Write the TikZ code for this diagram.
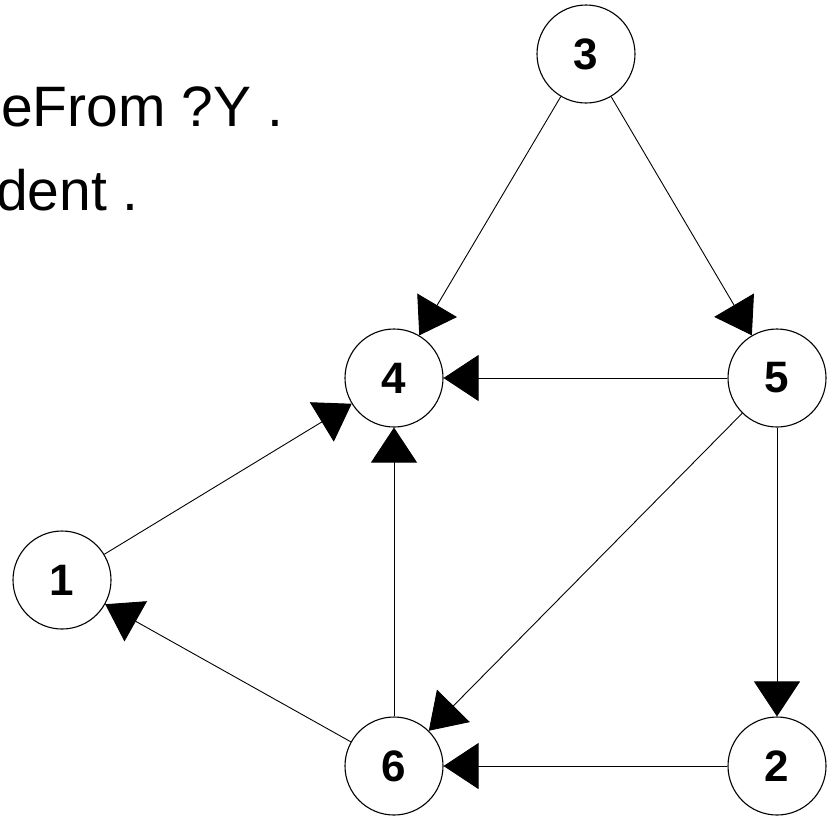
\documentclass[tikz,border=0pt]{standalone}
\usepackage{fontspec}
\setmainfont{Liberation Sans}
\usetikzlibrary{arrows.meta}
\tikzset{
  vertex/.style={circle, draw, line width=1.1pt, minimum size=98pt, inner sep=0pt,
    font=\fontsize{44}{44}\selectfont\bfseries},
  edge/.style={line width=0.9pt, -{Triangle[length=35pt,width=46pt]}},
  query/.style={anchor=base west, inner sep=0pt, font=\fontsize{57}{57}\selectfont}
}
\begin{document}
\begin{tikzpicture}[x=1pt,y=-1pt]
  \useasboundingbox (0,0) rectangle (834,815);
  \clip (0,0) rectangle (834,815);
  \fill[white] (0,0) rectangle (834,815);

  % query text, cut at the left edge
  \node[query] (q1) at (1,126) {eFrom ?Y .};
  \node[query] (q2) at (-4,210) {dent .};

  % graph vertices
  \node[vertex] (n3) at (586,54) {3};
  \node[vertex] (n4) at (394,378) {4};
  \node[vertex] (n5) at (777,378) {5};
  \node[vertex] (n1) at (62,580) {1};
  \node[vertex] (n6) at (394,766) {6};
  \node[vertex] (n2) at (777,766) {2};

  % directed edges
  \draw[edge] (n3) -- (n4);
  \draw[edge] (n3) -- (n5);
  \draw[edge] (n5) -- (n4);
  \draw[edge] (n1) -- (n4);
  \draw[edge] (n6) -- (n4);
  \draw[edge] (n6) -- (n1);
  \draw[edge] (n5) -- (n6);
  \draw[edge] (n2) -- (n6);
  \draw[edge] (n5) -- (n2);
\end{tikzpicture}
\end{document}
